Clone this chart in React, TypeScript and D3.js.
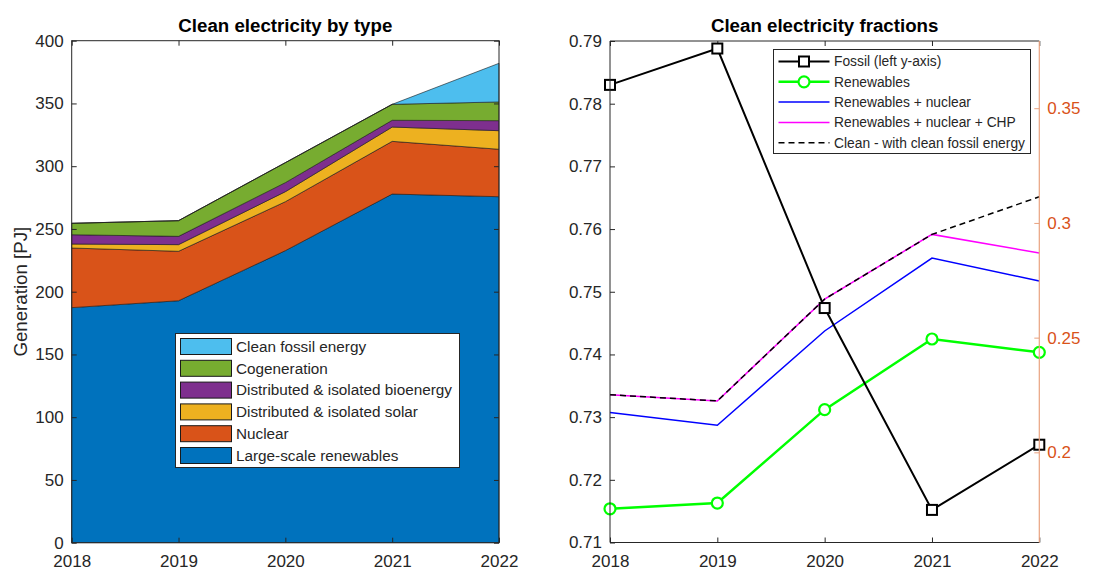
import * as d3 from 'd3'
import { useEffect, useRef } from 'react'

// Data
const years = [2018, 2019, 2020, 2021, 2022]
const largeScale = [187.3, 192.8, 232.7, 277.8, 275.7]
const nuclear = [47.5, 39.4, 39.0, 42.0, 37.8]
const solar = [3.2, 5.3, 8.0, 11.4, 14.8]
const bioenergy = [7.4, 6.6, 7.2, 5.4, 8.0]
const cogeneration = [9.1, 12.5, 15.9, 12.7, 14.9]
const cleanFossil = [0, 0, 0, 0, 30.8]

const fossil = [0.783, 0.7888, 0.7474, 0.7152, 0.7256]
const renewables = [0.1754, 0.1779, 0.2186, 0.2494, 0.2436]
const renNuclear = [0.2174, 0.2118, 0.2529, 0.2847, 0.2747]
const renNuclearChp = [0.2251, 0.2224, 0.2668, 0.295, 0.2869]
const cleanWithFossil = [0.2251, 0.2224, 0.2668, 0.295, 0.3114]

const leftTicks = [0, 50, 100, 150, 200, 250, 300, 350, 400]
const fracTicks = [0.71, 0.72, 0.73, 0.74, 0.75, 0.76, 0.77, 0.78, 0.79]
const rightTicks = [0.2, 0.25, 0.3, 0.35]

const areaKeys = ['large', 'nuclear', 'solar', 'bio', 'cog', 'cleanFossil']
const areaColors = ['#0072BD', '#D95319', '#EDB120', '#7E2F8E', '#77AC30', '#4DBEEE']
const areaNames = [
  'Large-scale renewables',
  'Nuclear',
  'Distributed & isolated solar',
  'Distributed & isolated bioenergy',
  'Cogeneration',
  'Clean fossil energy',
]

const FONT = 'Liberation Sans, Arial, Helvetica, sans-serif'
const AX = '#262626'
const ORANGE = '#D95319'
const TICK_FS = 17
const LABEL_FS = 18.7

export default function App() {
  const svgRef = useRef<SVGSVGElement>(null)

  useEffect(() => {
    if (!svgRef.current) return
    d3.select(svgRef.current).selectAll('*').remove()

    const width = 1117
    const height = 572
    const svg = d3
      .select(svgRef.current)
      .attr('width', width)
      .attr('height', height)
      .style('font-family', FONT)

    const styleAxis = (g: any, color: string) => {
      g.select('.domain').remove()
      g.selectAll('line').attr('stroke', color)
      g.selectAll('text').attr('fill', color).style('font-size', `${TICK_FS}px`).style('font-family', FONT)
    }

    // ---------- Left panel: stacked area ----------
    const lx = d3.scaleLinear().domain([2018, 2022]).range([71.7, 499])
    const ly = d3.scaleLinear().domain([0, 400]).range([542.7, 40.7])

    const rows = years.map((yr, i) => ({
      year: yr,
      large: largeScale[i],
      nuclear: nuclear[i],
      solar: solar[i],
      bio: bioenergy[i],
      cog: cogeneration[i],
      cleanFossil: cleanFossil[i],
    }))
    const stacked = d3.stack<any>().keys(areaKeys)(rows)

    const area = d3
      .area<any>()
      .x(d => lx(d.data.year))
      .y0(d => ly(d[0]))
      .y1(d => ly(d[1]))

    const gL = svg.append('g')
    stacked.forEach((s, i) => {
      gL.append('path')
        .attr('d', area(s as any)!)
        .attr('fill', areaColors[i])
        .attr('stroke', '#1a1a1a')
        .attr('stroke-width', 0.6)
    })

    svg.append('g')
      .attr('transform', `translate(${lx.range()[0]},0)`)
      .call(d3.axisLeft(ly).tickValues(leftTicks).tickSizeInner(-5).tickSizeOuter(0).tickPadding(8))
      .call(g => styleAxis(g, AX))
    svg.append('g')
      .attr('transform', `translate(${lx.range()[1]},0)`)
      .call(d3.axisRight(ly).tickValues(leftTicks).tickSizeInner(-5).tickSizeOuter(0).tickFormat(() => ''))
      .call(g => styleAxis(g, AX))
    svg.append('g')
      .attr('transform', `translate(0,${ly.range()[0]})`)
      .call(d3.axisBottom(lx).tickValues(years).tickFormat(d3.format('d')).tickSizeInner(-5).tickSizeOuter(0).tickPadding(12))
      .call(g => styleAxis(g, AX))
    svg.append('g')
      .attr('transform', `translate(0,${ly.range()[1]})`)
      .call(d3.axisTop(lx).tickValues(years).tickFormat(() => '').tickSizeInner(-5).tickSizeOuter(0))
      .call(g => styleAxis(g, AX))
    svg.append('rect')
      .attr('x', lx.range()[0]).attr('y', ly.range()[1])
      .attr('width', lx.range()[1] - lx.range()[0])
      .attr('height', ly.range()[0] - ly.range()[1])
      .attr('fill', 'none').attr('stroke', AX).attr('stroke-width', 1)

    svg.append('text')
      .attr('transform', `translate(20.5,${(ly.range()[0] + ly.range()[1]) / 2}) rotate(-90)`)
      .attr('text-anchor', 'middle')
      .attr('dy', '0.35em')
      .attr('fill', AX)
      .style('font-size', `${LABEL_FS}px`)
      .text('Generation [PJ]')

    svg.append('text')
      .attr('x', (lx.range()[0] + lx.range()[1]) / 2)
      .attr('y', 31.5)
      .attr('text-anchor', 'middle')
      .style('font-size', `${LABEL_FS}px`)
      .style('font-weight', 'bold')
      .text('Clean electricity by type')

    // left legend
    const lg = svg.append('g')
    lg.append('rect')
      .attr('x', 175.5).attr('y', 333.5).attr('width', 284).attr('height', 134)
      .attr('fill', '#fff').attr('stroke', AX).attr('stroke-width', 1)
    const legendOrder = [5, 4, 3, 2, 1, 0]
    legendOrder.forEach((k, i) => {
      const cy = 346.5 + i * 21.8
      lg.append('rect')
        .attr('x', 180.5).attr('y', cy - 8).attr('width', 51).attr('height', 16)
        .attr('fill', areaColors[k]).attr('stroke', '#1a1a1a').attr('stroke-width', 1)
      lg.append('text')
        .attr('x', 236).attr('y', cy).attr('dy', '0.35em')
        .attr('fill', AX)
        .style('font-size', '15.3px')
        .text(areaNames[k])
    })

    // ---------- Right panel: fractions ----------
    const rx = d3.scaleLinear().domain([2018, 2022]).range([610, 1039.3])
    const ryL = d3.scaleLinear().domain([0.71, 0.79]).range([542.5, 41])
    const ryR = d3.scaleLinear().domain([0.1607, 0.3793]).range([542.5, 41])

    svg.append('g')
      .attr('transform', `translate(0,${ryL.range()[1]})`)
      .call(d3.axisTop(rx).tickValues(years).tickFormat(() => '').tickSizeInner(-5).tickSizeOuter(0))
      .call(g => styleAxis(g, AX))
    svg.append('line')
      .attr('x1', rx.range()[0]).attr('x2', rx.range()[1])
      .attr('y1', ryL.range()[1]).attr('y2', ryL.range()[1])
      .attr('stroke', AX)

    const lineR = d3.line<number>().x((_, i) => rx(years[i])).y(d => ryR(d))
    const lineL = d3.line<number>().x((_, i) => rx(years[i])).y(d => ryL(d))

    const gR = svg.append('g')
    gR.append('path').attr('d', lineR(renNuclear)!).attr('fill', 'none')
      .attr('stroke', '#0000FF').attr('stroke-width', 1.5)
    gR.append('path').attr('d', lineR(renNuclearChp)!).attr('fill', 'none')
      .attr('stroke', '#FF00FF').attr('stroke-width', 1.5)
    gR.append('path').attr('d', lineR(cleanWithFossil)!).attr('fill', 'none')
      .attr('stroke', '#000').attr('stroke-width', 1.5).attr('stroke-dasharray', '6,4')
    gR.append('path').attr('d', lineR(renewables)!).attr('fill', 'none')
      .attr('stroke', '#00FF00').attr('stroke-width', 2.5)
    gR.selectAll('circle.ren').data(renewables).enter().append('circle')
      .attr('cx', (_, i) => rx(years[i])).attr('cy', d => ryR(d)).attr('r', 5.5)
      .attr('fill', '#fff').attr('stroke', '#00FF00').attr('stroke-width', 2.2)

    gR.append('path').attr('d', lineL(fossil)!).attr('fill', 'none')
      .attr('stroke', '#000').attr('stroke-width', 2)
    gR.selectAll('rect.fos').data(fossil).enter().append('rect')
      .attr('x', (_, i) => rx(years[i]) - 5).attr('y', d => ryL(d) - 5)
      .attr('width', 10).attr('height', 10)
      .attr('fill', '#fff').attr('stroke', '#000').attr('stroke-width', 2)

    // axes
    svg.append('g')
      .attr('transform', `translate(${rx.range()[0]},0)`)
      .call(d3.axisLeft(ryL).tickValues(fracTicks).tickFormat(d3.format('.2f')).tickSizeInner(-5).tickSizeOuter(0).tickPadding(8))
      .call(g => styleAxis(g, AX))
    svg.append('line')
      .attr('x1', rx.range()[0]).attr('x2', rx.range()[0])
      .attr('y1', ryL.range()[0]).attr('y2', ryL.range()[1])
      .attr('stroke', AX)
    svg.append('g')
      .attr('transform', `translate(0,${ryL.range()[0]})`)
      .call(d3.axisBottom(rx).tickValues(years).tickFormat(d3.format('d')).tickSizeInner(-5).tickSizeOuter(0).tickPadding(12))
      .call(g => styleAxis(g, AX))
    svg.append('line')
      .attr('x1', rx.range()[0]).attr('x2', rx.range()[1])
      .attr('y1', ryL.range()[0]).attr('y2', ryL.range()[0])
      .attr('stroke', AX)
    svg.append('g')
      .attr('transform', `translate(${rx.range()[1]},0)`)
      .call(d3.axisRight(ryR).tickValues(rightTicks).tickFormat(d => String(+d)).tickSizeInner(-5).tickSizeOuter(0).tickPadding(8))
      .call(g => styleAxis(g, ORANGE))
      .call(g => g.selectAll('line').attr('stroke', '#E9A27F'))
    svg.append('line')
      .attr('x1', rx.range()[1]).attr('x2', rx.range()[1])
      .attr('y1', ryL.range()[0]).attr('y2', ryL.range()[1])
      .attr('stroke', '#E9A27F').attr('stroke-width', 1.2)

    svg.append('text')
      .attr('x', (rx.range()[0] + rx.range()[1]) / 2)
      .attr('y', 31.5)
      .attr('text-anchor', 'middle')
      .style('font-size', `${LABEL_FS}px`)
      .style('font-weight', 'bold')
      .text('Clean electricity fractions')

    // right legend
    const rg = svg.append('g')
    rg.append('rect')
      .attr('x', 773.5).attr('y', 49.5).attr('width', 257).attr('height', 104)
      .attr('fill', '#fff').attr('stroke', AX).attr('stroke-width', 1)
    const legendItems = [
      { name: 'Fossil (left y-axis)', color: '#000', w: 2, dash: null, marker: 'square' },
      { name: 'Renewables', color: '#00FF00', w: 2.5, dash: null, marker: 'circle' },
      { name: 'Renewables + nuclear', color: '#0000FF', w: 1.5, dash: null, marker: null },
      { name: 'Renewables + nuclear + CHP', color: '#FF00FF', w: 1.5, dash: null, marker: null },
      { name: 'Clean - with clean fossil energy', color: '#000', w: 1.5, dash: '6,4', marker: null },
    ]
    legendItems.forEach((it, i) => {
      const cy = 61.5 + i * 20.3
      rg.append('line')
        .attr('x1', 778.5).attr('x2', 829.5).attr('y1', cy).attr('y2', cy)
        .attr('stroke', it.color).attr('stroke-width', it.w)
        .attr('stroke-dasharray', it.dash ?? null)
      if (it.marker === 'square') {
        rg.append('rect').attr('x', 799).attr('y', cy - 5).attr('width', 10).attr('height', 10)
          .attr('fill', '#fff').attr('stroke', '#000').attr('stroke-width', 2)
      } else if (it.marker === 'circle') {
        rg.append('circle').attr('cx', 804).attr('cy', cy).attr('r', 5.5)
          .attr('fill', '#fff').attr('stroke', '#00FF00').attr('stroke-width', 2.2)
      }
      rg.append('text')
        .attr('x', 834).attr('y', cy).attr('dy', '0.35em')
        .attr('fill', AX)
        .style('font-size', '13.8px')
        .text(it.name)
    })
  }, [])

  return (
    <svg
      ref={svgRef}
      style={{ position: 'absolute', left: 0, top: 0, background: '#fff' }}
    ></svg>
  )
}
